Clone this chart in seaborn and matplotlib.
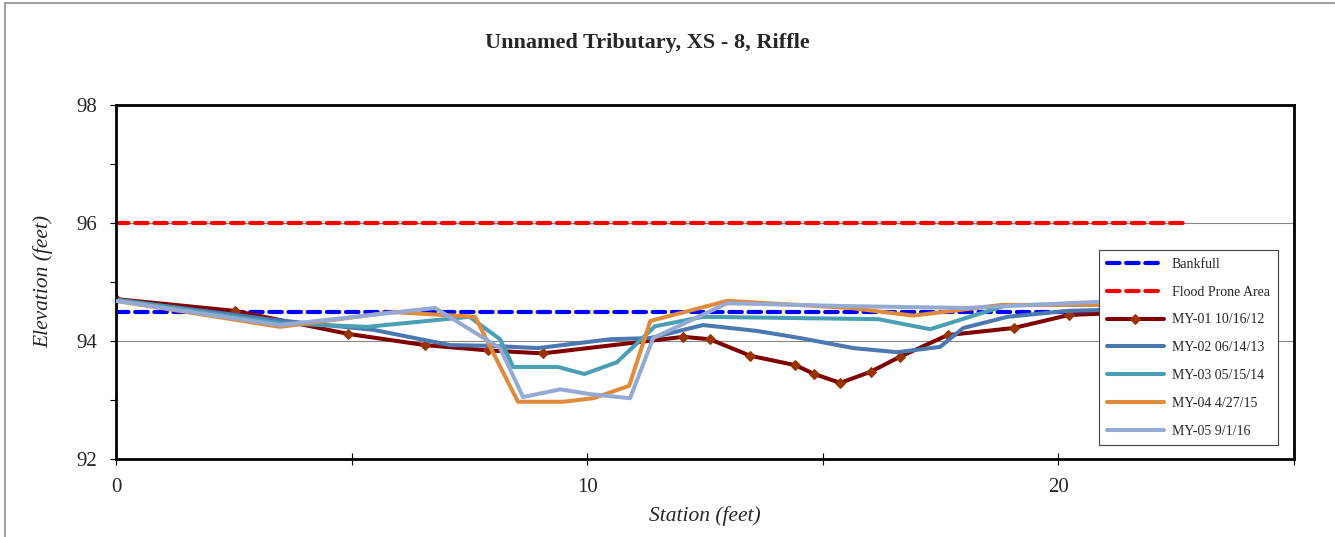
import matplotlib
matplotlib.use("Agg")
import matplotlib.pyplot as plt
import seaborn as sns
import pandas as pd
from matplotlib.patches import Rectangle
from matplotlib.ticker import MultipleLocator

# ---- data ----
bankfull_x = [0, 22.65]
bankfull_y = [94.5, 94.5]
flood_x = [0, 22.65]
flood_y = [96.0, 96.0]

my01_x = [0, 2.53, 4.93, 6.56, 7.90, 9.06, 12.04, 12.60, 13.46, 14.42, 14.82, 15.37, 16.02, 16.63, 17.65, 19.05, 20.22, 22.5]
my01_y = [94.71, 94.51, 94.12, 93.93, 93.84, 93.79, 94.07, 94.03, 93.75, 93.59, 93.44, 93.29, 93.48, 93.73, 94.10, 94.22, 94.44, 94.52]

my02_x = [0, 3.33, 5.46, 7.09, 7.90, 8.96, 10.49, 11.34, 12.46, 13.61, 14.52, 15.65, 16.58, 17.49, 17.98, 18.92, 20.19, 22.5]
my02_y = [94.70, 94.36, 94.19, 93.93, 93.92, 93.88, 94.03, 94.05, 94.27, 94.17, 94.05, 93.88, 93.81, 93.90, 94.22, 94.41, 94.51, 94.56]

my03_x = [0, 3.48, 5.33, 7.50, 8.15, 8.43, 9.38, 9.94, 10.63, 11.44, 12.46, 16.18, 17.28, 18.92, 22.5]
my03_y = [94.70, 94.30, 94.24, 94.41, 94.03, 93.56, 93.56, 93.44, 93.64, 94.25, 94.41, 94.37, 94.20, 94.61, 94.62]

my04_x = [0, 3.48, 5.88, 7.62, 8.53, 9.49, 10.13, 10.89, 11.34, 12.97, 15.58, 16.92, 18.77, 22.5]
my04_y = [94.68, 94.24, 94.49, 94.41, 92.97, 92.97, 93.03, 93.24, 94.34, 94.68, 94.56, 94.43, 94.61, 94.62]

my05_x = [0, 3.48, 6.77, 8.15, 8.64, 9.43, 10.06, 10.91, 11.40, 12.97, 15.58, 18.07, 20.74, 22.5]
my05_y = [94.68, 94.27, 94.56, 93.88, 93.05, 93.18, 93.10, 93.03, 94.05, 94.64, 94.59, 94.56, 94.66, 94.68]

series_names = ["Bankfull", "Flood Prone Area", "MY-01 10/16/12", "MY-02 06/14/13",
                "MY-03 05/15/14", "MY-04 4/27/15", "MY-05 9/1/16"]
x_ticks = [0, 10, 20]
y_ticks = [92, 94, 96, 98]

# ---- style ----
sns.set_theme(style="white")
plt.rcParams["font.family"] = ["Liberation Serif", "DejaVu Serif"]

fig = plt.figure(figsize=(13.35, 5.37), dpi=100)
ax = fig.add_axes([116/1335, 1-459/537, (1294-116)/1335, (459-105)/537])

def draw(xs, ys, label, color, lw, ls="-", marker=None, ms=0, mc=None, z=2):
    df = pd.DataFrame({"Station": xs, "Elevation": ys})
    sns.lineplot(data=df, x="Station", y="Elevation", ax=ax, sort=False, estimator=None,
                 color=color, linewidth=lw, linestyle=ls, marker=marker, markersize=ms,
                 markerfacecolor=mc, markeredgecolor=mc, label=label, zorder=z,
                 dash_capstyle="round" if ls != "-" else "butt")

draw(bankfull_x, bankfull_y, series_names[0], "#0000ff", 3.0, ls=(0, (3.0, 1.6)), z=2)
draw(flood_x, flood_y, series_names[1], "#ff0000", 3.0, ls=(0, (3.0, 1.6)), z=2.1)
draw(my01_x, my01_y, series_names[2], "#800000", 2.9, marker="D", ms=5.5, mc="#993300", z=2.2)
draw(my02_x, my02_y, series_names[3], "#4a78b0", 2.9, z=2.3)
draw(my03_x, my03_y, series_names[4], "#4a9fb5", 2.9, z=2.4)
draw(my04_x, my04_y, series_names[5], "#e08a3c", 2.9, z=2.5)
draw(my05_x, my05_y, series_names[6], "#94aad4", 2.9, z=2.6)

ax.set_xlim(0, 25)
ax.set_ylim(92, 98)
ax.set_xticks(x_ticks)
ax.set_yticks(y_ticks)
ax.xaxis.set_minor_locator(MultipleLocator(5))
ax.yaxis.set_minor_locator(MultipleLocator(1))
ax.tick_params(axis="x", which="major", direction="inout", length=9, width=0.8, color="black",
               labelsize=15, pad=9, bottom=True)
ax.tick_params(axis="x", which="minor", direction="inout", length=9, width=0.8, color="black", bottom=True)
ax.tick_params(axis="y", which="major", direction="out", length=4.5, width=0.8, color="black",
               labelsize=15, pad=9, left=True)
ax.tick_params(axis="y", which="minor", direction="out", length=4.5, width=0.8, color="black", left=True)
ax.grid(axis="y", which="major", color="#868686", linewidth=0.8, zorder=0)
ax.set_axisbelow(True)
for side, sp in ax.spines.items():
    sp.set_visible(True)
    sp.set_color("black")
    sp.set_linewidth(2.0)

ax.set_xlabel("Station (feet)", fontsize=15.5, style="italic", labelpad=7)
ax.set_ylabel("Elevation (feet)", fontsize=15.5, style="italic", labelpad=17)
fig.text(647/1335, 1-43/537, "Unnamed Tributary, XS - 8, Riffle", ha="center", va="center",
         fontsize=16, fontweight="bold")

handles, labels = ax.get_legend_handles_labels()
leg = ax.legend(handles, labels, loc="upper left", bbox_to_anchor=((1099-116)/1178, 1-(250-105)/354),
                fontsize=10, frameon=True, fancybox=False, framealpha=1, edgecolor="#404040",
                handlelength=4.1, handletextpad=0.6, labelspacing=1.07, borderpad=0.55,
                borderaxespad=0, numpoints=1)
leg.get_frame().set_linewidth(0.8)
leg.set_zorder(10)

# outer chart border (visible on top and left only)
fig.add_artist(Rectangle((5/1335, -0.5), 2.0, 1.5 - 3/537, transform=fig.transFigure,
                         fill=False, edgecolor="#a0a0a0", linewidth=1.5))

fig.savefig("out.png", dpi=100)
